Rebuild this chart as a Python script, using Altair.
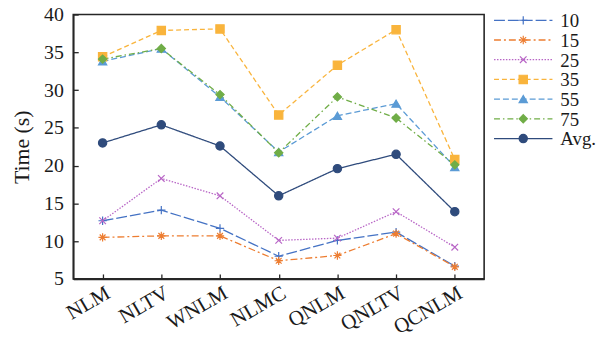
import altair as alt
import pandas as pd

# Categories (methods) and running time per patch size
methods = ["NLM", "NLTV", "WNLM", "NLMC", "QNLM", "QNLTV", "QCNLM"]
series_names = ["10", "15", "25", "35", "55", "75", "Avg."]

t10 = [12.7, 14.1, 11.7, 8.0, 10.1, 11.2, 6.7]
t15 = [10.5, 10.7, 10.7, 7.4, 8.1, 11.0, 6.6]
t25 = [12.7, 18.3, 16.0, 10.1, 10.4, 13.9, 9.2]
t35 = [34.4, 37.9, 38.1, 26.7, 33.3, 38.0, 20.8]
t55 = [33.8, 35.5, 29.1, 21.8, 26.6, 28.2, 19.8]
t75 = [34.1, 35.5, 29.4, 21.7, 29.1, 26.3, 20.1]
t_avg = [23.0, 25.4, 22.6, 16.0, 19.6, 21.5, 13.9]

y_ticks = [5, 10, 15, 20, 25, 30, 35, 40]

colors = ["#4472C4", "#ED7D31", "#B865C6", "#F9B43C", "#5B9BD5", "#70AD47", "#2F4B7C"]
dashes = [[11, 3], [7, 3, 2, 3], [1.5, 1.5], [5, 3], [6, 3], [6, 3, 1.5, 3], [1, 0]]
shapes = [
    "M-1,0H1M0,-1V1",
    "M-1,0H1M0,-1V1M-0.7,-0.7L0.7,0.7M-0.7,0.7L0.7,-0.7",
    "M-0.8,-0.8L0.8,0.8M-0.8,0.8L0.8,-0.8",
    "square",
    "triangle-up",
    "diamond",
    "circle",
]
sizes = [70, 70, 70, 56, 56, 42, 50]

FONT = "Times New Roman, Liberation Serif, serif"
INK = "#1a1a1a"
FRAME = "#262626"

rows = []
for name, vals in zip(series_names, [t10, t15, t25, t35, t55, t75, t_avg]):
    for m, v in zip(methods, vals):
        rows.append({"method": m, "series": name, "time": v})
df = pd.DataFrame(rows)

color_scale = alt.Scale(domain=series_names, range=colors)
dash_scale = alt.Scale(domain=series_names, range=dashes)
shape_scale = alt.Scale(domain=series_names, range=shapes)
size_scale = alt.Scale(domain=series_names, range=sizes)

x_scale = alt.Scale(type="point", padding=0.5)
y_scale = alt.Scale(domain=[5, 40], nice=False, zero=False)

W, H = 415, 267

# Lines carry the labelled axes (left and bottom)
lines = alt.Chart(df).mark_line(strokeWidth=1.3).encode(
    x=alt.X("method:N", sort=methods, scale=x_scale, title=None,
            axis=alt.Axis(orient="bottom", labelAngle=-30, labelFont=FONT, labelFontSize=21,
                          labelColor=INK, labelPadding=3, ticks=False,
                          domainColor=FRAME, domainWidth=1.6, labelAlign="right",
                          labelBaseline="top")),
    y=alt.Y("time:Q", scale=y_scale, title="Time (s)",
            axis=alt.Axis(orient="left", values=y_ticks, labelFont=FONT, labelFontSize=20,
                          labelColor=INK, labelPadding=10, ticks=False, grid=False,
                          domainColor=FRAME, domainWidth=1.6, titleFont=FONT,
                          titleFontSize=22, titleFontWeight="normal", titleColor=INK,
                          titlePadding=10)),
    color=alt.Color("series:N", scale=color_scale, legend=None),
    strokeDash=alt.StrokeDash("series:N", scale=dash_scale, legend=None),
    detail="series:N",
)

# Markers carry the inward-pointing tick axes
points = alt.Chart(df).mark_point(filled=True, strokeWidth=1.2, opacity=1).encode(
    x=alt.X("method:N", sort=methods, scale=x_scale,
            axis=alt.Axis(orient="top", offset=-H, labels=False, domain=False,
                          ticks=True, tickSize=5, tickColor=FRAME, tickWidth=1.3,
                          zindex=5, title=None)),
    y=alt.Y("time:Q", scale=y_scale,
            axis=alt.Axis(orient="left", offset=-5, labels=False, domain=False,
                          values=y_ticks, ticks=True, tickSize=5, tickColor=FRAME,
                          tickWidth=1.3, zindex=5, grid=False, title=None)),
    fill=alt.Fill("series:N", scale=color_scale, legend=None),
    stroke=alt.Stroke("series:N", scale=color_scale, legend=None),
    shape=alt.Shape("series:N", scale=shape_scale, legend=None),
    size=alt.Size("series:O", scale=size_scale, legend=None),
)

main = alt.layer(lines, points).resolve_axis(x="independent", y="independent").properties(
    width=W, height=H, view=alt.ViewBackground(stroke=FRAME, strokeWidth=1.6)
)

# Legend: one short line with a marker and a label per series
leg_rows = []
for name in series_names:
    leg_rows.append({"series": name, "pos": 0.0})
    leg_rows.append({"series": name, "pos": 1.0})
leg_df = pd.DataFrame(leg_rows)
leg_mid = pd.DataFrame({"series": series_names, "pos": [0.5] * len(series_names)})
leg_end = pd.DataFrame({"series": series_names, "pos": [1.0] * len(series_names)})

lx = alt.X("pos:Q", scale=alt.Scale(domain=[0, 1], nice=False, zero=False), axis=None)
ly = alt.Y("series:N", sort=series_names, scale=alt.Scale(type="point", padding=0.29), axis=None)

leg_lines = alt.Chart(leg_df).mark_line(strokeWidth=1.3).encode(
    x=lx, y=ly,
    color=alt.Color("series:N", scale=color_scale, legend=None),
    strokeDash=alt.StrokeDash("series:N", scale=dash_scale, legend=None),
    detail="series:N",
)
leg_pts = alt.Chart(leg_mid).mark_point(filled=True, strokeWidth=1.2, opacity=1).encode(
    x=lx, y=ly,
    fill=alt.Fill("series:N", scale=color_scale, legend=None),
    stroke=alt.Stroke("series:N", scale=color_scale, legend=None),
    shape=alt.Shape("series:N", scale=shape_scale, legend=None),
    size=alt.Size("series:O", scale=size_scale, legend=None),
)
leg_txt = alt.Chart(leg_end).mark_text(align="left", baseline="middle", dx=8, dy=1,
                                       font=FONT, fontSize=19, color=INK).encode(
    x=lx, y=ly, text="series:N"
)
legend = alt.layer(leg_lines, leg_pts, leg_txt).properties(
    width=59, height=131, view=alt.ViewBackground(stroke="transparent")
)

chart = alt.hconcat(main, legend, spacing=5).properties(
    padding={"left": 10, "top": 2, "right": 0, "bottom": 0}
)

chart.save("out.html", embed_options={"renderer": "svg", "actions": False})
